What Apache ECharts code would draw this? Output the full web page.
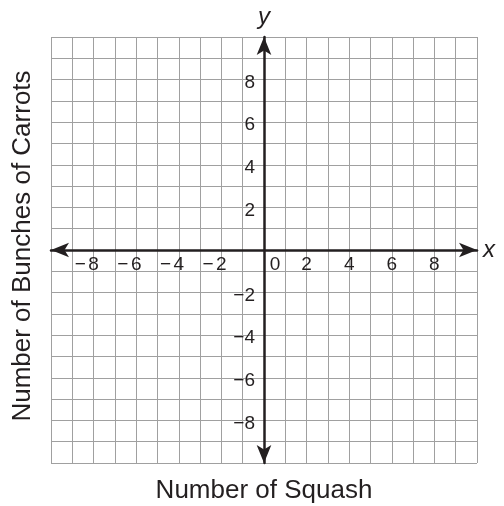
<!DOCTYPE html>
<html>
<head>
<meta charset="utf-8">
<script src="https://cdn.jsdelivr.net/npm/echarts@6/dist/echarts.min.js"></script>
<style>html,body{margin:0;padding:0;background:#fff;}#c{width:504px;height:506px;}</style>
</head>
<body>
<div id="c"></div>
<script>
var xRange = [-10, 10];
var yRange = [-10, 10];
var xTickLabels = [-8, -6, -4, -2, 0, 2, 4, 6, 8];
var yTickLabels = [-8, -6, -4, -2, 2, 4, 6, 8];
var xAxisName = 'x';
var yAxisName = 'y';
var xTitle = 'Number of Squash';
var yTitle = 'Number of Bunches of Carrots';

var FONT = "'Liberation Sans', Arial, Helvetica, sans-serif";
var TEXT = '#231f20';
var GRID = {left: 51, top: 37, width: 426, height: 426};
var LBL = 19;

var chart = echarts.init(document.getElementById('c'), null, {renderer: 'canvas'});
chart.setOption({
  animation: false,
  backgroundColor: '#fff',
  grid: {left: GRID.left, top: GRID.top, width: GRID.width, height: GRID.height, containLabel: false},
  xAxis: {
    type: 'value', min: xRange[0], max: xRange[1], interval: 1,
    position: 'bottom', offset: -GRID.height / 2,
    name: xAxisName, nameLocation: 'end', nameGap: 6,
    nameTextStyle: {fontFamily: FONT, fontSize: 24, fontStyle: 'italic', color: TEXT, verticalAlign: 'middle', padding: [0,0,4,0]},
    axisLine: {show: true, onZero: false, symbol: ['arrow', 'arrow'], symbolSize: [11, 18], symbolOffset: [0, 0],
      lineStyle: {color: TEXT, width: 2.5}},
    axisTick: {show: false},
    splitLine: {show: true, lineStyle: {color: '#a0a0a0', width: 1}},
    axisLabel: {
      show: true, margin: 5, fontFamily: FONT, fontSize: LBL, color: TEXT,
      formatter: function (v) {
        if (xTickLabels.indexOf(v) < 0) return '';
        if (v === 0) return '{s0|}0';
        if (v < 0) return '{m|\u2212}' + Math.abs(v) + '{s|}';
        return String(v);
      },
      rich: {
        m: {width: 16, fontFamily: FONT, fontSize: LBL, color: TEXT},
        s: {width: 16},
        s0: {width: 22}
      }
    }
  },
  yAxis: {
    type: 'value', min: yRange[0], max: yRange[1], interval: 1,
    position: 'left', offset: -GRID.width / 2,
    name: yAxisName, nameLocation: 'end', nameGap: 8,
    nameTextStyle: {fontFamily: FONT, fontSize: 24, fontStyle: 'italic', color: TEXT},
    axisLine: {show: true, onZero: false, symbol: ['arrow', 'arrow'], symbolSize: [11, 18], symbolOffset: [0, 0],
      lineStyle: {color: TEXT, width: 2.5}},
    axisTick: {show: false},
    splitLine: {show: true, lineStyle: {color: '#a0a0a0', width: 1}},
    axisLabel: {
      show: true, margin: 9, fontFamily: FONT, fontSize: LBL, color: TEXT, padding: [6, 0, 0, 0],
      formatter: function (v) {
        if (yTickLabels.indexOf(v) < 0) return '';
        if (v < 0) return '{m|\u2212}' + Math.abs(v);
        return String(v);
      },
      rich: {
        m: {width: 16, fontFamily: FONT, fontSize: LBL, color: TEXT}
      }
    }
  },
  graphic: [
    {type: 'text', x: 264, y: 491, style: {text: xTitle, fontFamily: FONT, fontSize: 26, fill: TEXT, textAlign: 'center', textVerticalAlign: 'middle'}},
    {type: 'text', x: 23, y: 246, rotation: Math.PI / 2, style: {text: yTitle, fontFamily: FONT, fontSize: 26, fill: TEXT, textAlign: 'center', textVerticalAlign: 'middle'}}
  ],
  series: []
});
</script>
</body>
</html>
